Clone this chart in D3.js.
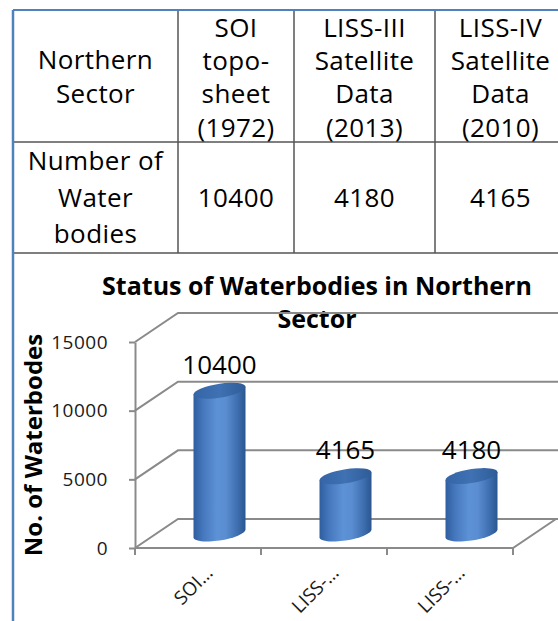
<!DOCTYPE html>
<html>
<head>
<meta charset="utf-8">
<script src="https://cdn.jsdelivr.net/npm/d3@7"></script>
<style>
  body { margin: 0; background: #fff; }
  svg { display: block; font-family: "Open Sans", sans-serif; }
</style>
</head>
<body>
<div id="chart"></div>
<script>
// table data
const tableHeader = [
  ["Northern", "Sector"],
  ["SOI", "topo-", "sheet", "(1972)"],
  ["LISS-III", "Satellite", "Data", "(2013)"],
  ["LISS-IV", "Satellite", "Data", "(2010)"]
];
const rowLabel = ["Number of", "Water", "bodies"];
const tableValues = [10400, 4180, 4165];

// chart data
const categories = ["SOI topo-sheet (1972)", "LISS-IV Satellite Data (2010)", "LISS-III Satellite Data (2013)"];
const tickLabels = ["SOI…", "LISS-…", "LISS-…"];
const values = [10400, 4165, 4180];
const yTicks = [0, 5000, 10000, 15000];

const W = 558, H = 621;
const svg = d3.select("#chart").append("svg")
  .attr("width", W).attr("height", H);

// ---- table ----
const colEdges = [13, 178, 294, 435, 566];
const rowEdges = [10, 142, 253];
const lineCol = "#555";
const blue = "#4f81bd";

const tbl = svg.append("g");
// inner lines
colEdges.slice(1, 4).forEach(cx => {
  tbl.append("line").attr("x1", cx).attr("x2", cx).attr("y1", rowEdges[0]).attr("y2", rowEdges[2])
    .attr("stroke", lineCol).attr("stroke-width", 1.5);
});
rowEdges.slice(1).forEach(ry => {
  tbl.append("line").attr("x1", colEdges[0]).attr("x2", W).attr("y1", ry).attr("y2", ry)
    .attr("stroke", lineCol).attr("stroke-width", 1.5);
});
// blue outer border (top and left, left runs to the bottom)
tbl.append("line").attr("x1", colEdges[0]).attr("x2", W).attr("y1", rowEdges[0]).attr("y2", rowEdges[0])
  .attr("stroke", blue).attr("stroke-width", 2);
tbl.append("line").attr("x1", colEdges[0]).attr("x2", colEdges[0]).attr("y1", rowEdges[0]).attr("y2", H)
  .attr("stroke", blue).attr("stroke-width", 2.5);

const cellFont = 26;
const headBase = [37, 70, 103, 136.5];
tableHeader.forEach((lines, i) => {
  const cx = (colEdges[i] + colEdges[i + 1]) / 2;
  const base = lines.length === 2 ? [69, 103] : headBase;
  lines.forEach((t, j) => {
    tbl.append("text").attr("x", cx).attr("y", base[j])
      .attr("text-anchor", "middle").attr("font-size", cellFont)
      .attr("letter-spacing", 0.4).attr("fill", "#000").text(t);
  });
});
const rowBase = [170, 207, 243];
rowLabel.forEach((t, j) => {
  tbl.append("text").attr("x", (colEdges[0] + colEdges[1]) / 2).attr("y", rowBase[j])
    .attr("text-anchor", "middle").attr("font-size", cellFont)
    .attr("letter-spacing", 0.4).attr("fill", "#000").text(t);
});
tableValues.forEach((v, i) => {
  tbl.append("text").attr("x", (colEdges[i + 1] + colEdges[i + 2]) / 2).attr("y", 207)
    .attr("text-anchor", "middle").attr("font-size", cellFont)
    .attr("letter-spacing", 0.4).attr("fill", "#000").text(v);
});

// ---- 3D cylinder chart ----
const x = d3.scaleBand().domain(categories).range([135, 513]);
const y = d3.scaleLinear().domain([0, 15000]).range([548, 342]);
const dx = 43, dy = -29;   // depth of the box
const grid = "#8a8a8a";

const chart = svg.append("g");

// title
chart.append("text").attr("x", 317).attr("y", 295).attr("text-anchor", "middle")
  .attr("font-size", 25).attr("font-weight", "bold").attr("fill", "#000")
  .text("Status of Waterbodies in Northern");
chart.append("text").attr("x", 317).attr("y", 328).attr("text-anchor", "middle")
  .attr("font-size", 25).attr("font-weight", "bold").attr("fill", "#000")
  .text("Sector");

// side wall diagonals + back wall gridlines
const x0 = x.range()[0], x1 = x.range()[1];
chart.selectAll(".side").data(yTicks).enter().append("path")
  .attr("fill", "none").attr("stroke", grid).attr("stroke-width", 2)
  .attr("d", d => `M${x0},${y(d)} L${x0 + dx},${y(d) + dy} L${W + 2},${y(d) + dy}`);
// floor
chart.append("path").attr("fill", "none").attr("stroke", grid).attr("stroke-width", 2)
  .attr("d", `M${x0},${y(0)} L${x1},${y(0)} L${x1 + dx},${y(0) + dy}`);

// y axis
const yAxis = chart.append("g").attr("transform", `translate(${x0},0)`)
  .call(d3.axisLeft(y).tickValues(yTicks).tickSize(6).tickSizeOuter(0)
    .tickPadding(21).tickFormat(d3.format("d")));
yAxis.select(".domain").attr("stroke", grid).attr("stroke-width", 2);
yAxis.selectAll(".tick line").attr("stroke", grid).attr("stroke-width", 2);
yAxis.selectAll(".tick text").attr("font-size", 19).attr("font-family", "Open Sans")
  .attr("fill", "#1a1a1a").attr("letter-spacing", 0.5);

// x tick marks at category edges
const edges = categories.map(c => x(c)).concat([x1]);
chart.selectAll(".xt").data(edges).enter().append("line")
  .attr("x1", d => d).attr("x2", d => d).attr("y1", y(0)).attr("y2", y(0) + 7)
  .attr("stroke", grid).attr("stroke-width", 2);

// x labels
chart.selectAll(".xl").data(categories).enter().append("text")
  .attr("transform", (d, i) => `translate(${x(d) + x.bandwidth() / 2 + 16},${y(0) + 26}) rotate(-45)`)
  .attr("text-anchor", "end").attr("font-size", 19).attr("fill", "#1a1a1a")
  .text((d, i) => tickLabels[i]);

// y axis title
chart.append("text").attr("transform", "translate(42,445) rotate(-90)")
  .attr("text-anchor", "middle").attr("font-size", 24).attr("font-weight", "bold")
  .attr("fill", "#000").text("No. of Waterbodes");

// gradients
const defs = svg.append("defs");
const bodyGrad = defs.append("linearGradient").attr("id", "body").attr("x1", 0).attr("x2", 1).attr("y1", 0).attr("y2", 0);
[[0, "#2f5e9f"], [0.18, "#4577bd"], [0.45, "#5d92d6"], [0.62, "#5a8dd1"], [0.85, "#3d6eaf"], [1, "#2b568f"]]
  .forEach(s => bodyGrad.append("stop").attr("offset", s[0]).attr("stop-color", s[1]));
const topGrad = defs.append("linearGradient").attr("id", "top").attr("x1", 0).attr("x2", 1).attr("y1", 0).attr("y2", 0);
[[0, "#3565a6"], [0.5, "#3f71b3"], [1, "#2f5c98"]]
  .forEach(s => topGrad.append("stop").attr("offset", s[0]).attr("stop-color", s[1]));

// cylinders, placed at mid depth
const r = 26, ry = 7;
const bars = chart.selectAll(".bar").data(values).enter().append("g")
  .attr("transform", (d, i) => `translate(${x(categories[i]) + x.bandwidth() / 2 + dx / 2},${y(0) + dy / 2}) skewY(-8.5)`);
bars.append("path")
  .attr("fill", "url(#body)")
  .attr("d", d => {
    const h = y(0) - y(d);
    return `M${-r},0 L${-r},${-h} L${r},${-h} L${r},0 A${r},${ry} 0 0 1 ${-r},0 Z`;
  });
bars.append("ellipse")
  .attr("cx", 0).attr("cy", d => -(y(0) - y(d))).attr("rx", r).attr("ry", ry)
  .attr("fill", "url(#top)");

// data labels
chart.selectAll(".lbl").data(values).enter().append("text")
  .attr("x", (d, i) => x(categories[i]) + x.bandwidth() / 2 + dx / 2)
  .attr("y", d => y(d) + dy / 2 - 17)
  .attr("text-anchor", "middle").attr("font-size", 26).attr("fill", "#000")
  .text(d => d);
</script>
</body>
</html>
